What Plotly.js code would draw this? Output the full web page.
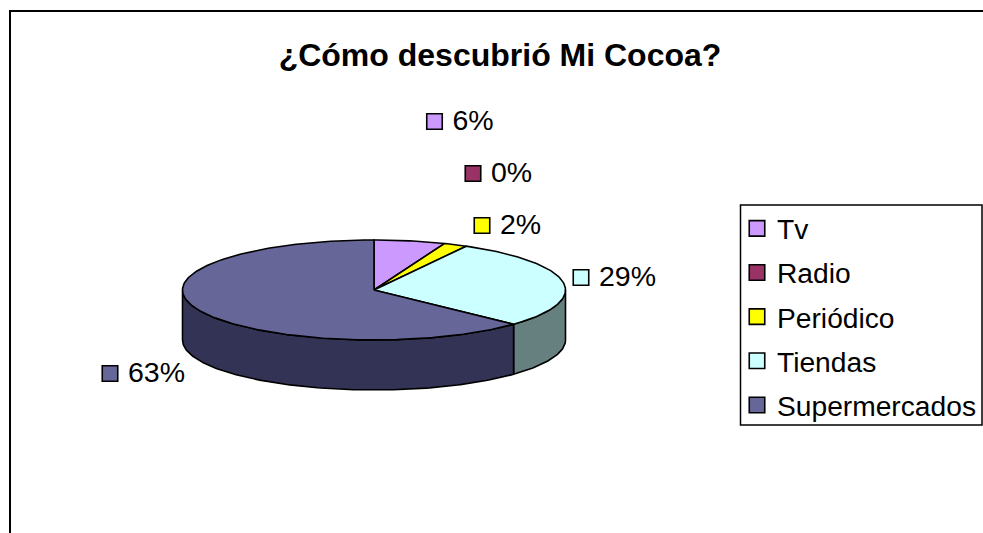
<!DOCTYPE html>
<html>
<head>
<meta charset="utf-8">
<script src="https://cdn.plot.ly/plotly-3.0.1.min.js"></script>
<style>html,body{margin:0;padding:0;background:#fff}#chart{width:983px;height:533px}</style>
</head>
<body>
<div id="chart"></div>
<script>
const categories = ["Tv", "Radio", "Periódico", "Tiendas", "Supermercados"];
const values = [6, 0, 2, 29, 63];
const labels = ["6%", "0%", "2%", "29%", "63%"];
const topColors = ["#CC99FF", "#993366", "#FFFF00", "#CCFFFF", "#666699"];
const sideColors = ["#665080", "#4D1A33", "#808000", "#668080", "#333355"];
const labelX = [434.5, 473, 482, 581, 110];
const labelY = [121.5, 173.5, 225.5, 277.5, 373.5];

const CX = 374, CY = 290, RX = 191.5, RY = 50, DEPTH = 50;
const FONT = "Liberation Sans, Arial, sans-serif";
const LEGEND_FS = 28.2, LABEL_FS = 28.5, TITLE_FS = 32;

function pt(deg, dy) {
  const a = deg * Math.PI / 180;
  return [CX + RX * Math.sin(a), CY - RY * Math.cos(a) + dy];
}
function arc(a0, a1, dy) {
  const out = [], n = Math.max(1, Math.ceil(Math.abs(a1 - a0)));
  for (let i = 0; i <= n; i++) out.push(pt(a0 + (a1 - a0) * i / n, dy));
  return out;
}
const traces = [];
function poly(points, fill) {
  traces.push({
    type: "scatter", mode: "lines", x: points.map(p => p[0]), y: points.map(p => p[1]),
    fill: "toself", fillcolor: fill, line: {color: "#000", width: 1.6},
    showlegend: false, hoverinfo: "skip"
  });
}
const total = values.reduce((a, b) => a + b, 0);
let start = 0;
const spans = values.map(v => { const s = [start, start + v / total * 360]; start = s[1]; return s; });

// visible side walls (front half of the cylinder)
spans.forEach((s, i) => {
  const a0 = Math.max(s[0], 90), a1 = Math.min(s[1], 270);
  if (a1 <= a0) return;
  poly(arc(a0, a1, 0).concat(arc(a1, a0, DEPTH)).concat([pt(a0, 0)]), sideColors[i]);
});
// top faces
spans.forEach((s, i) => {
  if (s[1] <= s[0]) return;
  poly([[CX, CY]].concat(arc(s[0], s[1], 0)).concat([[CX, CY]]), topColors[i]);
});
// label swatches, which also supply the legend keys
categories.forEach((c, i) => {
  traces.push({
    type: "scatter", mode: "markers", name: c, legendgroup: c,
    x: [labelX[i]], y: [labelY[i]],
    marker: {symbol: "square", size: 15.5, color: topColors[i], line: {color: "#000", width: 1.6}},
    hoverinfo: "skip", cliponaxis: false
  });
});
traces.push({
  type: "scatter", mode: "text", x: labelX.map(v => v + 18), y: labelY.map(v => v + 1), text: labels,
  textposition: "middle right", textfont: {family: FONT, size: LABEL_FS, color: "#000"},
  showlegend: false, hoverinfo: "skip", cliponaxis: false
});

const layout = {
  width: 983, height: 533, margin: {l: 0, r: 0, t: 0, b: 0},
  paper_bgcolor: "#fff", plot_bgcolor: "#fff",
  font: {family: FONT, color: "#000"},
  xaxis: {range: [0, 983], visible: false, fixedrange: true},
  yaxis: {range: [533, 0], visible: false, fixedrange: true},
  title: {
    text: "¿Cómo descubrió Mi Cocoa?", x: 500 / 983, xanchor: "center",
    y: 1 - 54.5 / 533, yanchor: "middle",
    font: {family: FONT, size: TITLE_FS, weight: 700, color: "#000"}
  },
  legend: {
    x: 737 / 983, y: 1 - 203.5 / 533, xanchor: "left", yanchor: "top",
    traceorder: "grouped", tracegroupgap: 4.5,
    bgcolor: "rgba(0,0,0,0)", borderwidth: 0,
    font: {family: FONT, size: LEGEND_FS, color: "#000"}
  },
  shapes: [
    {type: "rect", xref: "x", yref: "y", x0: 10, y0: 11, x1: 1100, y1: 700, line: {color: "#000", width: 2}, fillcolor: "rgba(0,0,0,0)", layer: "below"},
    {type: "rect", xref: "x", yref: "y", x0: 740.5, y0: 205, x1: 982, y1: 425, line: {color: "#000", width: 1.5}, fillcolor: "#fff", layer: "below"}
  ],
  showlegend: true
};
Plotly.newPlot("chart", traces, layout, {displayModeBar: false, staticPlot: true});
</script>
</body>
</html>
